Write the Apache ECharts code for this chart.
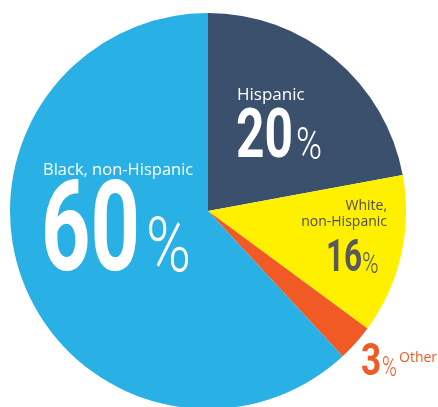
<!DOCTYPE html>
<html>
<head>
<meta charset="utf-8">
<script src="https://cdn.jsdelivr.net/npm/echarts@6.0.0/dist/echarts.min.js"></script>
<style>
  html, body { margin: 0; padding: 0; background: #fff; }
  #chart { width: 438px; height: 407px; }
</style>
</head>
<body>
<div id="chart"></div>
<script>
// slices clockwise from 12 o'clock
const categories = ['Hispanic', 'White, non-Hispanic', 'Other', 'Black, non-Hispanic'];
const sliceShares = [22.1, 13.0, 3.0, 61.9];
// the printed percentages
const percentLabels = ['20', '16', '3', '60'];
const nameLines = ['Hispanic', 'White,\nnon-Hispanic', 'Other', 'Black, non-Hispanic'];

const colors = ['#3b506d', '#fff000', '#f15a24', '#29b0e4'];

// label placement and type sizes, one entry per slice
const labelLayout = [
  { name: { x: 237, y: 95, align: 'left', size: 17, color: '#ffffff' },
    num: { x: 236, y: 140, size: 68, sx: 0.73, color: '#ffffff' },
    pct: { x: 296, y: 148, size: 44, sx: 0.8, color: '#ffffff' } },
  { name: { x: 387, y: 214, align: 'right', size: 14, color: '#4d4d4d', lh: 16 },
    num: { x: 326, y: 260, size: 45, sx: 0.7, color: '#58595b' },
    pct: { x: 362, y: 265, size: 30, sx: 0.75, color: '#58595b' } },
  { name: { x: 399, y: 358, align: 'left', size: 14, color: '#f15a24' },
    num: { x: 361, y: 364, size: 45, sx: 0.78, color: '#f15a24' },
    pct: { x: 382, y: 369, size: 28, sx: 0.72, color: '#f15a24' } },
  { name: { x: 43, y: 170, align: 'left', size: 16.5, color: '#ffffff' },
    num: { x: 41, y: 238, size: 127, sx: 0.68, color: '#ffffff' },
    pct: { x: 146, y: 252, size: 76, sx: 0.8, color: '#ffffff' } }
];

const bodyFont = "'Open Sans', 'Noto Sans', sans-serif";
const figFont = "Roboto, 'Liberation Sans', sans-serif";

const texts = [];
labelLayout.forEach((l, i) => {
  texts.push({
    type: 'text', x: l.name.x, y: l.name.y, z: 100, silent: true,
    style: {
      text: nameLines[i], fill: l.name.color, fontFamily: bodyFont,
      fontSize: l.name.size, lineHeight: l.name.lh || l.name.size + 2,
      align: l.name.align, verticalAlign: 'middle'
    }
  });
  texts.push({
    type: 'text', x: l.num.x, y: l.num.y, z: 100, scaleX: l.num.sx, silent: true,
    style: {
      text: percentLabels[i], fill: l.num.color, fontFamily: figFont,
      fontWeight: 'bold', fontSize: l.num.size, align: 'left', verticalAlign: 'middle'
    }
  });
  texts.push({
    type: 'text', x: l.pct.x, y: l.pct.y, z: 100, scaleX: l.pct.sx, silent: true,
    style: {
      text: '%', fill: l.pct.color, fontFamily: figFont,
      fontWeight: 300, fontSize: l.pct.size, align: 'left', verticalAlign: 'middle'
    }
  });
});

const chart = echarts.init(document.getElementById('chart'));
const option = {
  backgroundColor: '#ffffff',
  animation: false,
  series: [
    {
      type: 'pie',
      z: 2,
      center: [208, 211],
      radius: [0, 198],
      startAngle: 90,
      clockwise: true,
      silent: true,
      label: { show: false },
      labelLine: { show: false },
      itemStyle: { borderWidth: 0 },
      data: categories.map((name, i) => ({
        name,
        value: sliceShares[i],
        itemStyle: { color: colors[i] }
      }))
    }
  ],
  graphic: { elements: texts }
};
chart.setOption(option);
</script>
</body>
</html>
